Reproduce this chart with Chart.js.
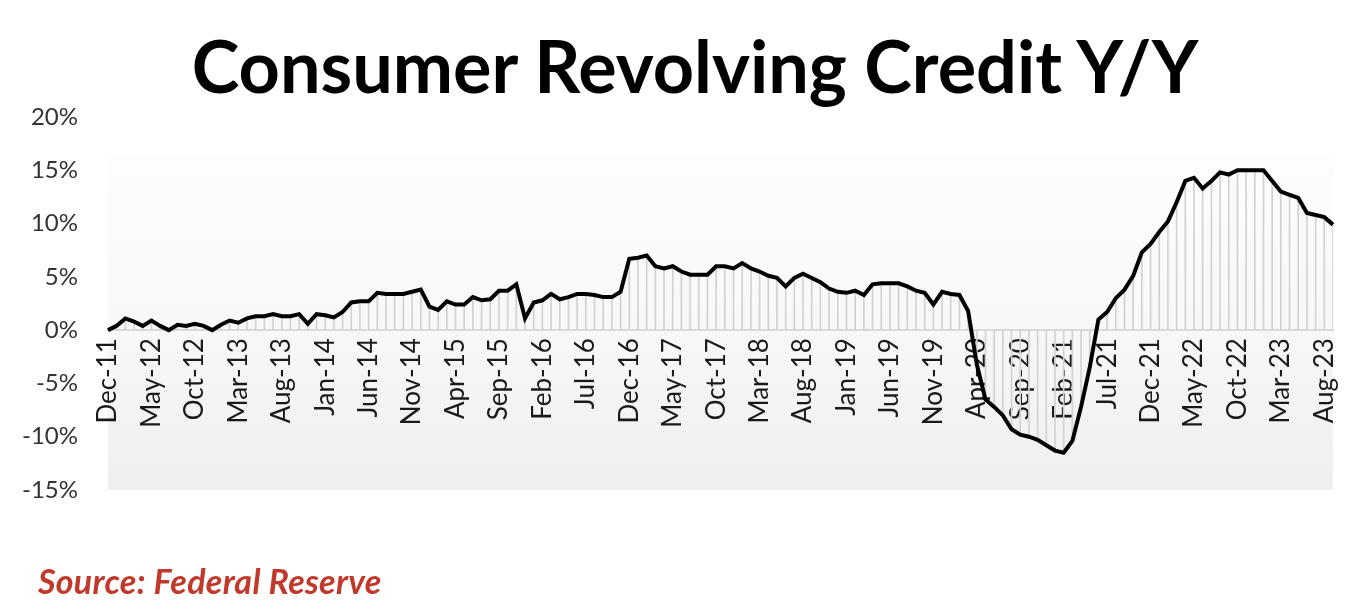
<!DOCTYPE html>
<html>
<head>
<meta charset="utf-8">
<script src="https://cdn.jsdelivr.net/npm/chart.js@4.4.1/dist/chart.umd.min.js"></script>
<style>
  html, body { margin: 0; padding: 0; background: #fff; }
  #wrap { position: relative; width: 1360px; height: 610px; overflow: hidden; }
  #chart { position: absolute; left: 0; top: 0; }
  #title {
    position: absolute; left: 15px; top: 29px; width: 1360px;
    text-align: center; font: bold 72px Lato, sans-serif; line-height: 72px; color: #000;
  }
  #source {
    position: absolute; left: 38px; top: 564px;
    font: italic bold 34px Lato, sans-serif; line-height: 34px; color: #c0392b; letter-spacing: 0.3px;
  }
</style>
</head>
<body>
<div id="wrap">
  <canvas id="chart" width="1360" height="610"></canvas>
  <div id="title">Consumer Revolving Credit Y/Y</div>
  <div id="source">Source: Federal Reserve</div>
</div>
<script>
// monthly categories, Dec-11 .. Sep-23
const months = [
  'Dec-11',
  'Jan-12', 'Feb-12', 'Mar-12', 'Apr-12', 'May-12', 'Jun-12', 'Jul-12', 'Aug-12', 'Sep-12', 'Oct-12', 'Nov-12', 'Dec-12',
  'Jan-13', 'Feb-13', 'Mar-13', 'Apr-13', 'May-13', 'Jun-13', 'Jul-13', 'Aug-13', 'Sep-13', 'Oct-13', 'Nov-13', 'Dec-13',
  'Jan-14', 'Feb-14', 'Mar-14', 'Apr-14', 'May-14', 'Jun-14', 'Jul-14', 'Aug-14', 'Sep-14', 'Oct-14', 'Nov-14', 'Dec-14',
  'Jan-15', 'Feb-15', 'Mar-15', 'Apr-15', 'May-15', 'Jun-15', 'Jul-15', 'Aug-15', 'Sep-15', 'Oct-15', 'Nov-15', 'Dec-15',
  'Jan-16', 'Feb-16', 'Mar-16', 'Apr-16', 'May-16', 'Jun-16', 'Jul-16', 'Aug-16', 'Sep-16', 'Oct-16', 'Nov-16', 'Dec-16',
  'Jan-17', 'Feb-17', 'Mar-17', 'Apr-17', 'May-17', 'Jun-17', 'Jul-17', 'Aug-17', 'Sep-17', 'Oct-17', 'Nov-17', 'Dec-17',
  'Jan-18', 'Feb-18', 'Mar-18', 'Apr-18', 'May-18', 'Jun-18', 'Jul-18', 'Aug-18', 'Sep-18', 'Oct-18', 'Nov-18', 'Dec-18',
  'Jan-19', 'Feb-19', 'Mar-19', 'Apr-19', 'May-19', 'Jun-19', 'Jul-19', 'Aug-19', 'Sep-19', 'Oct-19', 'Nov-19', 'Dec-19',
  'Jan-20', 'Feb-20', 'Mar-20', 'Apr-20', 'May-20', 'Jun-20', 'Jul-20', 'Aug-20', 'Sep-20', 'Oct-20', 'Nov-20', 'Dec-20',
  'Jan-21', 'Feb-21', 'Mar-21', 'Apr-21', 'May-21', 'Jun-21', 'Jul-21', 'Aug-21', 'Sep-21', 'Oct-21', 'Nov-21', 'Dec-21',
  'Jan-22', 'Feb-22', 'Mar-22', 'Apr-22', 'May-22', 'Jun-22', 'Jul-22', 'Aug-22', 'Sep-22', 'Oct-22', 'Nov-22', 'Dec-22',
  'Jan-23', 'Feb-23', 'Mar-23', 'Apr-23', 'May-23', 'Jun-23', 'Jul-23', 'Aug-23', 'Sep-23'
];

// year-over-year change, percent
const yoy = [
  0.0,
  0.4, 1.1, 0.8, 0.4, 0.9, 0.4, 0.0, 0.5, 0.4, 0.6, 0.4, 0.0,
  0.5, 0.9, 0.7, 1.1, 1.3, 1.3, 1.5, 1.3, 1.3, 1.5, 0.6, 1.5,
  1.4, 1.2, 1.7, 2.6, 2.7, 2.7, 3.5, 3.4, 3.4, 3.4, 3.6, 3.8,
  2.2, 1.9, 2.7, 2.4, 2.4, 3.1, 2.8, 2.9, 3.7, 3.7, 4.3, 1.1,
  2.6, 2.8, 3.4, 2.9, 3.1, 3.4, 3.4, 3.3, 3.1, 3.1, 3.6, 6.7,
  6.8, 7.0, 6.0, 5.8, 6.0, 5.5, 5.2, 5.2, 5.2, 6.0, 6.0, 5.8,
  6.3, 5.8, 5.5, 5.1, 4.9, 4.1, 4.9, 5.3, 4.9, 4.5, 3.9, 3.6,
  3.5, 3.7, 3.3, 4.3, 4.4, 4.4, 4.4, 4.1, 3.7, 3.5, 2.4, 3.6,
  3.4, 3.3, 1.8, -3.2, -6.5, -7.2, -8.0, -9.3, -9.8, -10.0, -10.3, -10.8,
  -11.3, -11.5, -10.4, -7.2, -3.5, 1.0, 1.7, 3.0, 3.8, 5.1, 7.3, 8.1,
  9.2, 10.2, 12.0, 14.0, 14.3, 13.3, 14.0, 14.8, 14.6, 15.0, 15.0, 15.0,
  15.0, 14.0, 13.0, 12.7, 12.4, 11.0, 10.8, 10.6, 9.9
];

const yTicks = [-15, -10, -5, 0, 5, 10, 15, 20];
const labelEvery = 5;

const FONT = 'Lato, "Open Sans", sans-serif';

// light gradient behind the plot, like the Excel fill
const plotBackground = {
  id: 'plotBackground',
  beforeDraw(chart) {
    const { ctx, chartArea } = chart;
    const y = chart.scales.y;
    const top = y.getPixelForValue(16.2);
    const g = ctx.createLinearGradient(0, top, 0, chartArea.bottom);
    g.addColorStop(0, '#fdfdfd');
    g.addColorStop(0.5, '#f8f8f8');
    g.addColorStop(1, '#efefef');
    ctx.save();
    ctx.fillStyle = g;
    ctx.fillRect(chartArea.left, top, chartArea.right - chartArea.left, chartArea.bottom - top);
    ctx.restore();
  }
};

const ctx = document.getElementById('chart').getContext('2d');
new Chart(ctx, {
  data: {
    labels: months,
    datasets: [
      {
        type: 'line',
        data: yoy,
        borderColor: '#000',
        borderWidth: 4,
        pointRadius: 0,
        tension: 0,
        fill: false,
        order: 0
      },
      {
        type: 'bar',
        data: yoy,
        backgroundColor: '#d2d2d2',
        barThickness: 1,
        order: 1
      }
    ]
  },
  options: {
    responsive: false,
    animation: false,
    events: [],
    layout: { padding: { top: 117, bottom: 120, left: 0, right: 27 } },
    plugins: {
      legend: { display: false },
      tooltip: { enabled: false }
    },
    scales: {
      x: {
        type: 'category',
        position: { y: 0 },
        offset: false,
        grid: { display: false, drawTicks: false },
        border: { display: true, color: '#d9d9d9', width: 2 },
        ticks: {
          autoSkip: false,
          maxRotation: 90,
          minRotation: 90,
          padding: 8,
          color: '#1a1a1a',
          font: { family: FONT, size: 26 },
          callback: (v, i) => (i % labelEvery === 0 ? months[i] : '')
        },
        afterFit: (scale) => {
          scale.height = 0;
          scale.paddingLeft = 0;
          scale.paddingRight = 0;
        }
      },
      y: {
        min: -15,
        max: 20,
        afterBuildTicks: (scale) => { scale.ticks = yTicks.map(v => ({ value: v })); },
        grid: { display: false, drawTicks: false },
        border: { display: false },
        ticks: {
          padding: 30,
          color: '#333',
          font: { family: FONT, size: 24 },
          callback: (v) => v + '%'
        },
        afterFit: (scale) => { scale.width = 108; }
      }
    }
  },
  plugins: [plotBackground]
});
</script>
</body>
</html>
